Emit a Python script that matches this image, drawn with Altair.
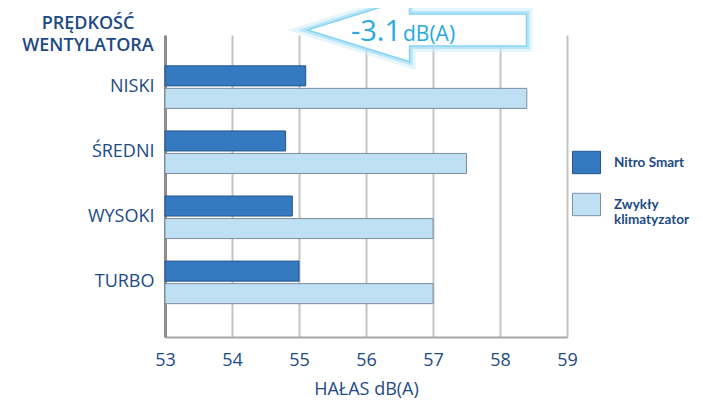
import altair as alt
import pandas as pd

categories = ["NISKI", "ŚREDNI", "WYSOKI", "TURBO"]
series = ["Nitro Smart", "Zwykły klimatyzator"]
nitro_values = [55.1, 54.8, 54.9, 55.0]
regular_values = [58.4, 57.5, 57.0, 57.0]
x_ticks = [53, 54, 55, 56, 57, 58, 59]
axis_min = 53
axis_max = 59

rows = []
for c, n, r in zip(categories, nitro_values, regular_values):
    rows.append({"kategoria": c, "seria": series[0], "wartosc": n})
    rows.append({"kategoria": c, "seria": series[1], "wartosc": r})
df = pd.DataFrame(rows)

TXT = "#1c4a85"
FONT = "Open Sans"

bars = alt.Chart(df).mark_bar(strokeWidth=1).encode(
    y=alt.Y("kategoria:N", sort=categories,
            scale=alt.Scale(paddingInner=0, paddingOuter=0.32, align=0.47),
            axis=alt.Axis(title=None, domainColor="#8c8c8c", domainWidth=3, ticks=False,
                          labelFontSize=18, labelColor=TXT, labelFont=FONT, labelPadding=11,
                          grid=False)),
    yOffset=alt.YOffset("seria:N", sort=series,
                        scale=alt.Scale(paddingInner=0.11, paddingOuter=0.5)),
    x=alt.X("wartosc:Q",
            scale=alt.Scale(domain=[axis_min, axis_max], zero=False, nice=False),
            axis=alt.Axis(values=x_ticks, format="d", title="HAŁAS dB(A)", grid=True,
                          gridColor="#c4c4c4", gridWidth=2, ticks=False, labelFlush=False,
                          domainColor="#a8a8a8", domainWidth=2,
                          labelFontSize=18, labelColor=TXT, labelFont=FONT, labelPadding=14,
                          titleFontSize=18, titleColor=TXT, titleFont=FONT,
                          titleFontWeight="normal", titlePadding=11)),
    x2=alt.datum(axis_min),
    color=alt.Color("seria:N", scale=alt.Scale(domain=series, range=["#3579c1", "#bfdff3"]),
                    legend=alt.Legend(title=None, orient="none", legendX=407, legendY=113,
                                      padding=0,
                                      symbolType="M-1,-0.8H1V0.8H-1Z", symbolSize=784,
                                      symbolStrokeColor="#4d6580", symbolStrokeWidth=1,
                                      symbolOpacity=1,
                                      labelFontSize=13.5, labelFontWeight="bold",
                                      labelColor=TXT, labelFont="Lato", labelOffset=13,
                                      rowPadding=14, labelLimit=200,
                                      labelExpr="datum.label == 'Zwykły klimatyzator' ? ['Zwykły', 'klimatyzator'] : datum.label")),
    stroke=alt.Stroke("seria:N", scale=alt.Scale(domain=series, range=["#24568f", "#7d8ea3"]),
                      legend=None),
)

one = pd.DataFrame({"a": [0]})
arrow_path = "M-1,0L-0.068,-0.29L-0.068,-0.146L1,-0.146L1,0.146L-0.068,0.146L-0.068,0.29Z"

glow1 = alt.Chart(one).mark_point(shape=arrow_path, size=47961, filled=False,
                                  stroke="#d4f0fb", strokeWidth=12, opacity=0.6).encode(
    x=alt.value(252), y=alt.value(-5))
glow2 = alt.Chart(one).mark_point(shape=arrow_path, size=47961, filled=False,
                                  stroke="#a6e0f7", strokeWidth=6, opacity=0.7).encode(
    x=alt.value(252), y=alt.value(-5))
arrow = alt.Chart(one).mark_point(shape=arrow_path, size=47961, filled=True,
                                  fill="white", stroke="#86d3f3", strokeWidth=1.5,
                                  opacity=1).encode(
    x=alt.value(252), y=alt.value(-5))

big = alt.Chart(one).mark_text(text="-3.1", font=FONT, fontSize=29, color="#27a9e1",
                               align="right", baseline="alphabetic").encode(
    x=alt.value(236), y=alt.value(6))
small = alt.Chart(one).mark_text(text="dB(A)", font=FONT, fontSize=21, color="#27a9e1",
                                 align="left", baseline="alphabetic").encode(
    x=alt.value(238), y=alt.value(6))

ytitle = alt.Chart(one).mark_text(text=["PRĘDKOŚĆ", "WENTYLATORA"], font=FONT, fontSize=18,
                                  fontWeight=600, color=TXT, align="center",
                                  baseline="alphabetic", lineHeight=22).encode(
    x=alt.value(-77), y=alt.value(-6))

chart = alt.layer(bars, glow1, glow2, arrow, big, small, ytitle).properties(
    width=402, height=302,
    autosize=alt.AutoSizeParams(type="none"),
    padding={"left": 157, "top": 27, "right": 128, "bottom": 64},
    background="white",
).configure_view(stroke=None)

chart.save("out.html", embed_options={"renderer": "svg", "actions": False})
